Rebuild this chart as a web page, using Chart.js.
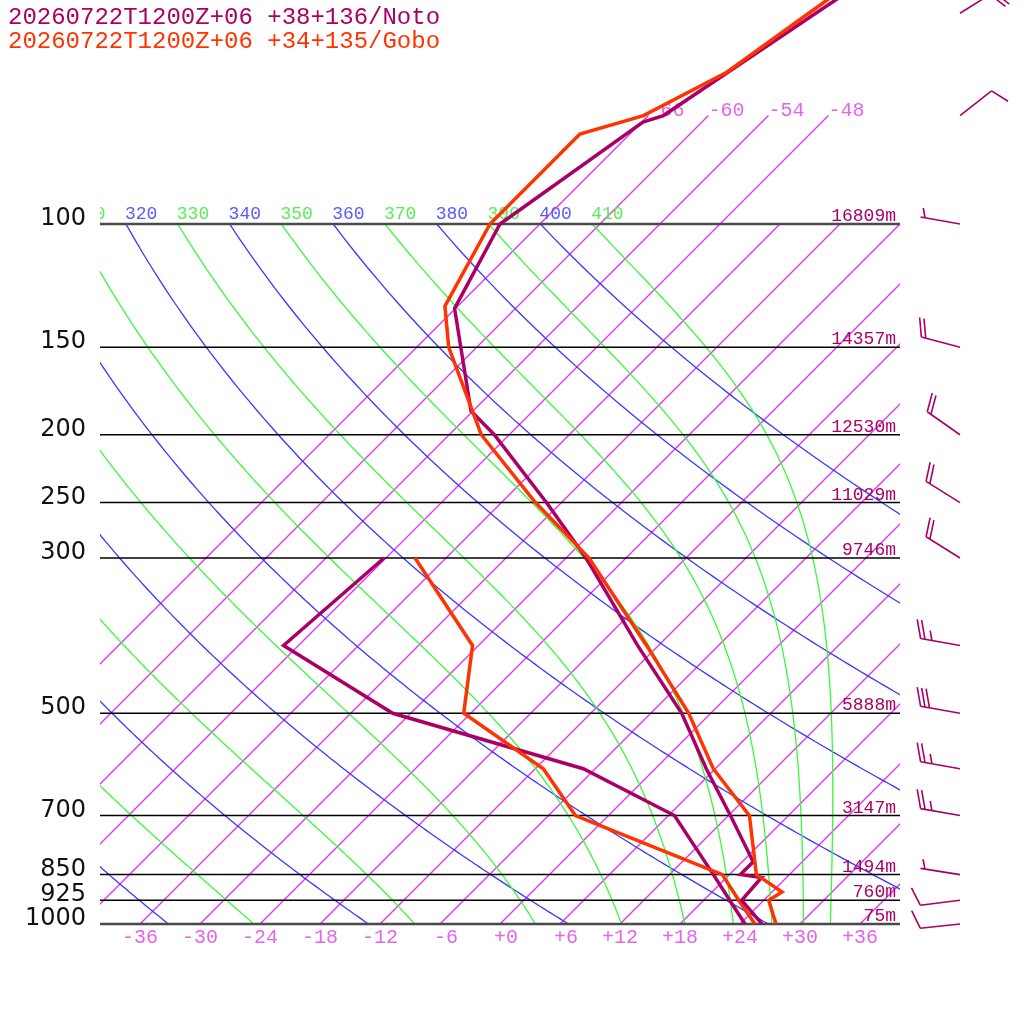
<!DOCTYPE html>
<html><head><meta charset="utf-8">
<script src="https://cdn.jsdelivr.net/npm/chart.js@4.4.1/dist/chart.umd.min.js"></script>
<style>html,body{margin:0;padding:0;background:#fff;}#wrap{width:1024px;height:1024px;}</style>
</head><body><div id="wrap"><canvas id="c" width="1024" height="1024"></canvas></div>
<script>
// ---------------- data ----------------
const titleNoto = "20260722T1200Z+06 +38+136/Noto";
const titleGobo = "20260722T1200Z+06 +34+135/Gobo";

const notoP  = [30, 50, 70, 71.5, 100, 132, 185, 200, 250, 300, 400, 500, 600, 700, 815, 850, 858, 925, 1000];
const notoT  = [-51.8, -59.5, -64.5, -65.9, -70.0, -66.1, -54.2, -49.5, -37.5, -28.0, -14.1, -2.9, 5.1, 12.2, 19.1, 19.1, 21.5, 21.8, 26.2];
const notoDP = [300, 400, 500, 600, 700, 850, 925, 1000];
const notoTd = [-48.2, -49.5, -31.8, -7.2, 6.6, 16.4, 20.6, 24.5];

const goboP  = [30, 50, 60.7, 70, 74.4, 100, 131, 150, 200, 250, 300, 400, 500, 600, 700, 850, 900, 925, 1000];
const goboT  = [-54.1, -60.2, -62.5, -66.5, -71.0, -71.0, -67.3, -62.8, -50.8, -38.6, -27.7, -13.2, -2.2, 5.8, 14.1, 20.7, 25.0, 24.5, 27.6];
const goboDP = [300, 400, 500, 600, 700, 850, 925, 1000];
const goboTd = [-45.1, -30.6, -24.7, -11.2, -3.3, 17.3, 21.5, 25.5];

const isobarLevels   = [100, 150, 200, 250, 300, 500, 700, 850, 925, 1000];
const pressureLabels = ["100", "150", "200", "250", "300", "500", "700", "850", "925", "1000"];
const heightLabels   = ["16809m", "14357m", "12530m", "11029m", "9746m", "5888m", "3147m", "1494m", "760m", "75m"];

const tempTicks      = [-36, -30, -24, -18, -12, -6, 0, 6, 12, 18, 24, 30, 36];
const tempTickLabels = ["-36", "-30", "-24", "-18", "-12", "-6", "+0", "+6", "+12", "+18", "+24", "+30", "+36"];

const isotherms    = [-66, -60, -54, -48, -42, -36, -30, -24, -18, -12, -6, 0, 6, 12, 18, 24, 30, 36];
const topIsotherms = [-66, -60, -54, -48];
const dryThetas    = [240, 260, 280, 300, 320, 340, 360, 380, 400];
const moistThetas  = [250, 270, 290, 310, 330, 350, 370, 390, 410];

const barbP   = [50, 70, 100, 150, 200, 250, 300, 400, 500, 600, 700, 850, 925, 1000];
const barbDir = [58, 52, 280, 285, 305, 302, 302, 280, 280, 280, 280, 279, 263, 264];
const barbSpd = [20, 10, 5, 20, 20, 20, 20, 25, 30, 25, 25, 5, 10, 10];

// ---------------- style ----------------
const NOTO = "rgb(170,0,102)", GOBO = "rgb(255,51,0)";
const ISO_C = "rgb(226,56,242)", ISO_L = "rgb(228,100,236)";
const DRY_C = "rgb(56,56,255)", DRY_L = "rgb(90,90,255)";
const WET_C = "rgb(56,250,56)", WET_L = "rgb(88,238,88)";
const MONO = "Liberation Mono, monospace";

const P_TOP = 1000 * Math.pow(10, -924 / 700);
const skewX = (T, p) => T + 70 * Math.log10(1000 / p);
const toPts = (P, T) => P.map((p, i) => ({x: skewX(T[i], p), y: p}));

function dTdp(p, T) {
  const Tc = T - 273.15;
  const es = 6.112 * Math.exp(17.67 * Tc / (Tc + 243.5));
  const rs = 0.622 * es / (p - es);
  const Lv = 2.501e6, Rd = 287.04;
  return (Rd * T + Lv * rs) / (1005.7 + Lv * Lv * rs * 0.622 / (Rd * T * T)) / p;
}
function moistLine(theta) {
  let T = theta * Math.pow(0.1, 0.2857);
  const out = [[T - 273.15, 100]];
  const h = 2;
  for (let p = 100; p < 1000; p += h) {
    const k1 = dTdp(p, T), k2 = dTdp(p + h / 2, T + h * k1 / 2),
          k3 = dTdp(p + h / 2, T + h * k2 / 2), k4 = dTdp(p + h, T + h * k3);
    T += h * (k1 + 2 * k2 + 2 * k3 + k4) / 6;
    out.push([T - 273.15, p + h]);
  }
  return out;
}
function dryLine(theta) {
  const out = [];
  for (let p = 100; p <= 1000; p += 5) out.push([theta * Math.pow(p / 1000, 0.2857) - 273.15, p]);
  return out;
}

const bgPlugin = {
  id: 'skewbg',
  beforeDatasetsDraw(chart) {
    const ctx = chart.ctx, xs = chart.scales.x, ys = chart.scales.y;
    const X = v => xs.getPixelForValue(v), Y = p => ys.getPixelForValue(p);
    const L = X(-40), R = X(40), yTop = Y(100), yBot = Y(1000);
    const px = (T, p) => [X(skewX(T, p)), Y(p)];
    function poly(pts, color, w) {
      ctx.beginPath();
      pts.forEach(([T, p], i) => { const [x, y] = px(T, p); i ? ctx.lineTo(x, y) : ctx.moveTo(x, y); });
      ctx.globalAlpha = 1;
      ctx.setLineDash([]);
      ctx.lineWidth = w;
      ctx.strokeStyle = color;
      ctx.stroke();
    }
    ctx.save();
    ctx.lineCap = "butt"; ctx.lineJoin = "round";
    // upper isotherms (extend to 70 hPa)
    ctx.save(); ctx.beginPath(); ctx.rect(L, 0, R - L, yBot); ctx.clip();
    topIsotherms.forEach(T => poly([[T, 1000], [T, 70]], ISO_C, 1.4));
    ctx.restore();
    ctx.save(); ctx.beginPath(); ctx.rect(L, yTop, R - L, yBot - yTop); ctx.clip();
    isotherms.filter(T => !topIsotherms.includes(T)).forEach(T => poly([[T, 1000], [T, 100]], ISO_C, 1.4));
    dryThetas.forEach(th => poly(dryLine(th), DRY_C, 1.3));
    moistThetas.forEach(th => poly(moistLine(th), WET_C, 1.3));
    ctx.restore();
    // isobars
    isobarLevels.forEach(p => {
      const y = Y(p);
      ctx.beginPath(); ctx.moveTo(L, y); ctx.lineTo(R, y);
      const edge = (p === 100 || p === 1000);
      ctx.strokeStyle = edge ? "#4a4a4a" : "#000"; ctx.lineWidth = edge ? 2.5 : 1.5; ctx.stroke();
    });
    // adiabat labels at 100 hPa
    ctx.save(); ctx.beginPath(); ctx.rect(L, 0, R - L, yTop); ctx.clip();
    ctx.font = "18px " + MONO; ctx.textAlign = "left"; ctx.textBaseline = "alphabetic";
    dryThetas.forEach(th => { ctx.fillStyle = DRY_L; ctx.fillText(String(th), px(th * Math.pow(0.1, 0.2857) - 273.15, 100)[0] - 1, yTop - 5); });
    moistThetas.forEach(th => { ctx.fillStyle = WET_L; ctx.fillText(String(th), px(th * Math.pow(0.1, 0.2857) - 273.15, 100)[0] - 1, yTop - 5); });
    ctx.restore();
    // isotherm labels at top
    ctx.font = "20px " + MONO; ctx.fillStyle = ISO_L; ctx.textAlign = "left";
    topIsotherms.forEach(T => { const [x, y] = px(T, 70); ctx.fillText(String(T), x, y); });
    // bottom temperature labels
    ctx.textAlign = "right";
    tempTicks.forEach((T, i) => ctx.fillText(tempTickLabels[i], X(T) + 18, yBot + 19));
    // pressure labels
    ctx.font = "24px DejaVu Sans, sans-serif"; ctx.fillStyle = "#111"; ctx.textAlign = "right";
    isobarLevels.forEach((p, i) => ctx.fillText(pressureLabels[i], 86, Y(p) + 1));
    // height labels
    ctx.font = "18px " + MONO; ctx.fillStyle = NOTO; ctx.textAlign = "right";
    isobarLevels.forEach((p, i) => ctx.fillText(heightLabels[i], R - 4, Y(p) - 3));
    // titles
    ctx.font = "24px " + MONO; ctx.textAlign = "left";
    ctx.fillStyle = NOTO; ctx.fillText(titleNoto, 8, 24);
    ctx.fillStyle = GOBO; ctx.fillText(titleGobo, 8, 48);
    ctx.restore();
  },
  afterDatasetsDraw(chart) {
    const ctx = chart.ctx, ys = chart.scales.y;
    ctx.save();
    ctx.strokeStyle = NOTO; ctx.lineWidth = 1.6; ctx.setLineDash([]);
    const r = 70 * Math.PI / 180, S = 40, FULL = 19.5, HALF = 10, GAP = 4.5;
    barbP.forEach((p, i) => {
      const x0 = 960, y0 = ys.getPixelForValue(p);
      const a = barbDir[i] * Math.PI / 180;
      const ux = Math.sin(a), uy = -Math.cos(a);
      const ex = x0 + ux * S, ey = y0 + uy * S;
      const bx = ux * Math.cos(r) - uy * Math.sin(r), by = ux * Math.sin(r) + uy * Math.cos(r);
      ctx.beginPath(); ctx.moveTo(x0, y0); ctx.lineTo(ex, ey);
      const nFull = Math.floor(barbSpd[i] / 10), nHalf = Math.round((barbSpd[i] % 10) / 5);
      for (let k = 0; k < nFull; k++) {
        const sx = ex - ux * GAP * k, sy = ey - uy * GAP * k;
        ctx.moveTo(sx, sy); ctx.lineTo(sx + bx * FULL, sy + by * FULL);
      }
      if (nHalf) {
        const off = nFull ? nFull * GAP + 2.5 : GAP;
        const sx = ex - ux * off, sy = ey - uy * off;
        ctx.moveTo(sx, sy); ctx.lineTo(sx + bx * HALF, sy + by * HALF);
      }
      ctx.stroke();
    });
    ctx.restore();
  }
};

const common = {showLine: true, pointRadius: 0, borderWidth: 3.5, tension: 0, fill: false, borderJoinStyle: 'miter'};
new Chart(document.getElementById('c'), {
  type: 'scatter',
  data: {datasets: [
    Object.assign({label: 'Gobo T',  data: toPts(goboP, goboT),   borderColor: GOBO}, common),
    Object.assign({label: 'Noto T',  data: toPts(notoP, notoT),   borderColor: NOTO}, common),
    Object.assign({label: 'Gobo Td', data: toPts(goboDP, goboTd), borderColor: GOBO}, common),
    Object.assign({label: 'Noto Td', data: toPts(notoDP, notoTd), borderColor: NOTO}, common)
  ]},
  options: {
    responsive: false, animation: false, devicePixelRatio: 1, events: [],
    layout: {padding: {left: 100, right: 124, top: 0, bottom: 100}},
    scales: {
      x: {type: 'linear', min: -40, max: 40, bounds: 'data', display: false},
      y: {type: 'logarithmic', reverse: true, min: P_TOP, max: 1000, bounds: 'data', display: false}
    },
    plugins: {legend: {display: false}, tooltip: {enabled: false}, title: {display: false}}
  },
  plugins: [bgPlugin]
});
</script></body></html>
